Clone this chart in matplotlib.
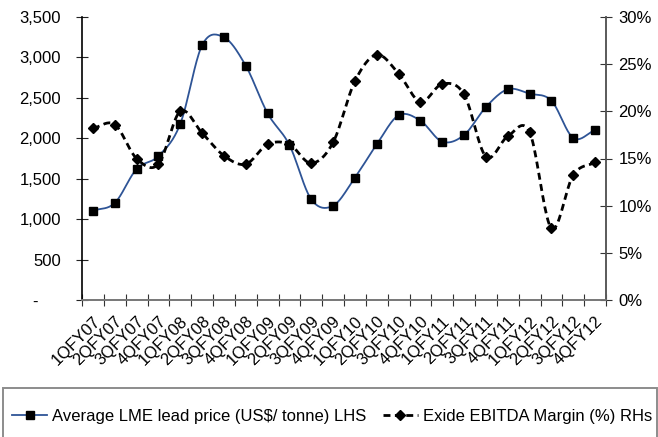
import numpy as np
import matplotlib.pyplot as plt
import matplotlib.transforms as mtransforms
from matplotlib.patches import Rectangle
from matplotlib.lines import Line2D

plt.rcParams['font.family'] = ['Liberation Sans', 'DejaVu Sans']

quarters = ['1QFY07', '2QFY07', '3QFY07', '4QFY07',
            '1QFY08', '2QFY08', '3QFY08', '4QFY08',
            '1QFY09', '2QFY09', '3QFY09', '4QFY09',
            '1QFY10', '2QFY10', '3QFY10', '4QFY10',
            '1QFY11', '2QFY11', '3QFY11', '4QFY11',
            '1QFY12', '2QFY12', '3QFY12', '4QFY12']

lead_price = [1105, 1200, 1620, 1780, 2177, 3150, 3249, 2898,
              2309, 1917, 1245, 1166, 1513, 1925, 2284, 2218,
              1958, 2041, 2387, 2606, 2552, 2465, 2004, 2102]

ebitda_margin = [18.2, 18.6, 15.0, 14.4, 20.0, 17.7, 15.3, 14.4,
                 16.5, 16.5, 14.5, 16.7, 23.2, 26.0, 24.0, 21.0,
                 22.9, 21.8, 15.2, 17.35, 17.8, 7.6, 13.25, 14.6]

left_ticks = [0, 500, 1000, 1500, 2000, 2500, 3000, 3500]
left_labels = ['-     ', '500', '1,000', '1,500', '2,000', '2,500', '3,000', '3,500']
right_ticks = [0, 5, 10, 15, 20, 25, 30]
right_labels = ['0%', '5%', '10%', '15%', '20%', '25%', '30%']

BLUE = '#2E5496'
AXIS = '#777777'


def smooth(y, n=20):
    # uniform Catmull-Rom curve through the points, like a smoothed office chart line
    y = np.asarray(y, dtype=float)
    p = np.concatenate([[2 * y[0] - y[1]], y, [2 * y[-1] - y[-2]]])
    xs, ys = [], []
    for i in range(len(y) - 1):
        t = np.linspace(0, 1, n, endpoint=False)
        p0, p1, p2, p3 = p[i], p[i + 1], p[i + 2], p[i + 3]
        seg = 0.5 * ((2 * p1) + (-p0 + p2) * t + (2 * p0 - 5 * p1 + 4 * p2 - p3) * t ** 2
                     + (-p0 + 3 * p1 - 3 * p2 + p3) * t ** 3)
        xs.append(i + t)
        ys.append(seg)
    xs.append([len(y) - 1])
    ys.append([y[-1]])
    return np.concatenate(xs), np.concatenate(ys)


fig = plt.figure(figsize=(6.58, 4.37), dpi=100)
ax = fig.add_axes([82 / 658, 137 / 437, 524 / 658, 283 / 437])
ax2 = ax.twinx()

x = np.arange(len(quarters))

sx, sy = smooth(lead_price)
ax.plot(sx, sy, color=BLUE, lw=1.3, zorder=3)
ax.plot(x, lead_price, ls='none', marker='s', ms=5.5, color='black', zorder=4)

mx, my = smooth(ebitda_margin)
ax2.plot(mx, my, color='black', lw=2, dashes=(2.5, 1.6), zorder=3)
ax2.plot(x, ebitda_margin, ls='none', marker='D', ms=5, color='black', zorder=4)

ax.set_xlim(-0.5, len(quarters) - 0.5)
ax.set_ylim(0, 3500)
ax2.set_ylim(0, 30)

ax.set_yticks(left_ticks)
ax.set_yticklabels(left_labels)
ax2.set_yticks(right_ticks)
ax2.set_yticklabels(right_labels)

ax.set_xticks(np.arange(len(quarters) + 1) - 0.5)
ax.set_xticklabels([])
ax.set_xticks(x, minor=True)
ax.set_xticklabels(quarters, minor=True, rotation=45, ha='right',
                   rotation_mode='anchor')
# pull the slanted labels a little to the left of their category
shift = mtransforms.ScaledTranslation(-10 / 100, 0, fig.dpi_scale_trans)
for lbl in ax.get_xticklabels(minor=True):
    lbl.set_transform(lbl.get_transform() + shift)
ax.tick_params(axis='x', which='minor', length=0, pad=10, labelsize=12)
ax.tick_params(axis='x', which='major', direction='inout', length=8,
               color='#333333')
ax.tick_params(axis='y', direction='inout', length=8, pad=11, labelsize=12,
               color='#222222')
ax2.tick_params(axis='y', direction='inout', length=8, pad=5, labelsize=12,
                color='#333333')

for a in (ax, ax2):
    a.spines['top'].set_visible(False)
    for s in ('left', 'right', 'bottom'):
        a.spines[s].set_color(AXIS)
        a.spines[s].set_linewidth(1.2)
    a.patch.set_visible(False)
ax.spines['left'].set_color('black')
ax2.spines['left'].set_visible(False)
ax2.spines['right'].set_color('#555555')

# legend box across the bottom of the figure
fig.patches.append(Rectangle((3 / 658, -0.02), 654 / 658, 0.132,
                             transform=fig.transFigure, fill=False,
                             edgecolor='#8c8c8c', lw=1.4))
handles = [Line2D([], [], color=BLUE, lw=1.3, marker='s', ms=5.5,
                  mfc='black', mec='black'),
           Line2D([], [], color='black', lw=2, dashes=(2.5, 1.6), marker='D',
                  ms=5, mfc='black', mec='black')]
fig.legend(handles, ['Average LME lead price (US$/ tonne) LHS',
                     'Exide EBITDA Margin (%) RHs'],
           loc='center left', bbox_to_anchor=(12 / 658, 21 / 437), ncol=2,
           frameon=False, fontsize=12, handlelength=2.1, handletextpad=0.3,
           columnspacing=1.0, borderaxespad=0, borderpad=0)

fig.savefig('out.png', dpi=100)
